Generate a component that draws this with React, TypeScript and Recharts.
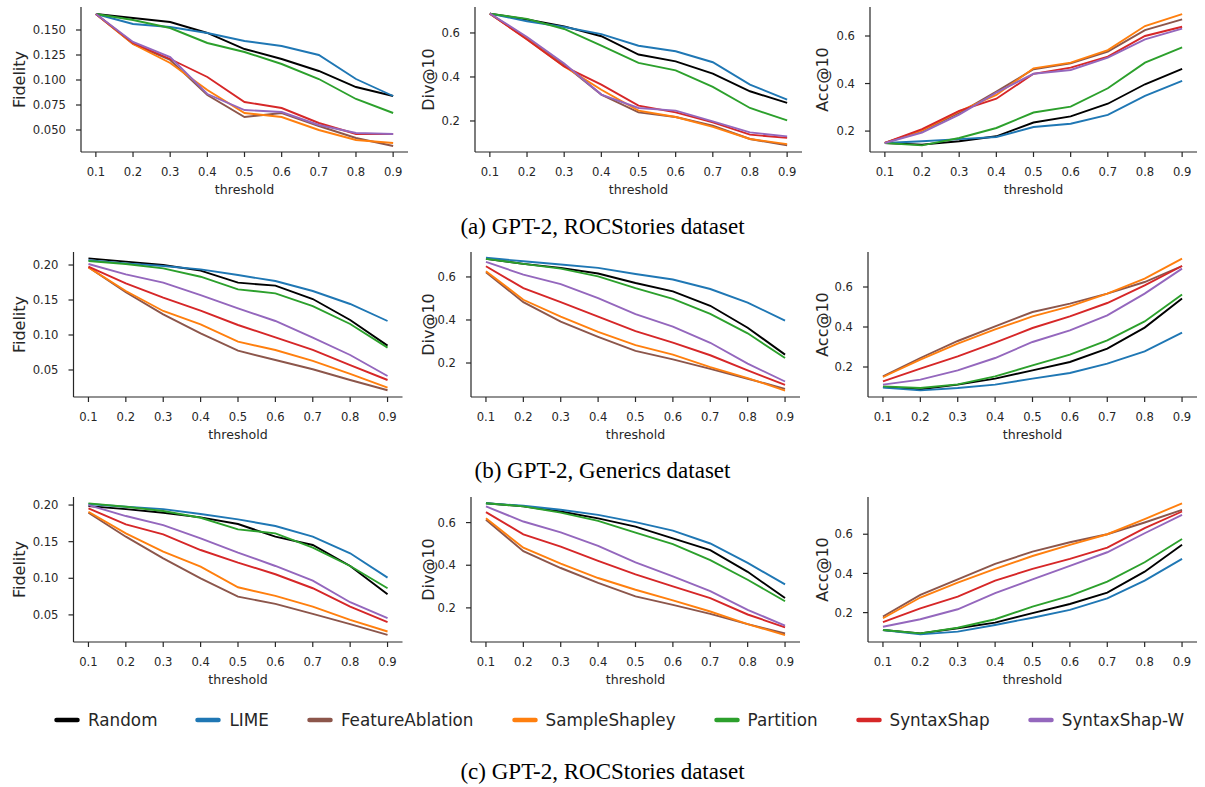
import React from 'react';
import { LineChart, Line, XAxis, YAxis } from 'recharts';

const thresholds = [0.1, 0.2, 0.3, 0.4, 0.5, 0.6, 0.7, 0.8, 0.9];

const methods = ['Random', 'LIME', 'FeatureAblation', 'SampleShapley', 'Partition', 'SyntaxShap', 'SyntaxShap-W'];

const colors: Record<string, string> = {
  Random: '#000000',
  LIME: '#1f77b4',
  FeatureAblation: '#8c564b',
  SampleShapley: '#ff7f0e',
  Partition: '#2ca02c',
  SyntaxShap: '#d62728',
  'SyntaxShap-W': '#9467bd',
};

// (a) GPT-2, ROCStories
const rocFidelity = {
  Random: [0.166, 0.162, 0.158, 0.147, 0.131, 0.121, 0.109, 0.093, 0.084],
  LIME: [0.166, 0.156, 0.153, 0.147, 0.139, 0.134, 0.125, 0.101, 0.084],
  FeatureAblation: [0.166, 0.136, 0.120, 0.085, 0.063, 0.067, 0.054, 0.042, 0.034],
  SampleShapley: [0.166, 0.136, 0.117, 0.090, 0.067, 0.063, 0.050, 0.040, 0.037],
  Partition: [0.166, 0.160, 0.152, 0.137, 0.128, 0.116, 0.101, 0.081, 0.067],
  SyntaxShap: [0.166, 0.137, 0.121, 0.103, 0.078, 0.072, 0.057, 0.046, 0.046],
  'SyntaxShap-W': [0.166, 0.138, 0.123, 0.086, 0.070, 0.068, 0.055, 0.047, 0.046],
};
const rocDiv = {
  Random: [0.688, 0.661, 0.630, 0.585, 0.502, 0.471, 0.415, 0.335, 0.282],
  LIME: [0.688, 0.653, 0.627, 0.595, 0.542, 0.517, 0.467, 0.365, 0.297],
  FeatureAblation: [0.688, 0.575, 0.455, 0.320, 0.239, 0.218, 0.179, 0.118, 0.089],
  SampleShapley: [0.688, 0.572, 0.448, 0.342, 0.247, 0.218, 0.173, 0.118, 0.095],
  Partition: [0.688, 0.664, 0.618, 0.542, 0.464, 0.430, 0.355, 0.259, 0.203],
  SyntaxShap: [0.688, 0.570, 0.448, 0.365, 0.270, 0.239, 0.194, 0.138, 0.123],
  'SyntaxShap-W': [0.688, 0.582, 0.461, 0.320, 0.259, 0.247, 0.198, 0.148, 0.130],
};
const rocAcc = {
  Random: [0.150, 0.143, 0.157, 0.178, 0.236, 0.262, 0.315, 0.397, 0.462],
  LIME: [0.150, 0.157, 0.166, 0.175, 0.217, 0.231, 0.268, 0.348, 0.411],
  FeatureAblation: [0.150, 0.201, 0.276, 0.366, 0.460, 0.485, 0.534, 0.625, 0.670],
  SampleShapley: [0.150, 0.203, 0.283, 0.352, 0.464, 0.488, 0.541, 0.642, 0.692],
  Partition: [0.150, 0.140, 0.171, 0.213, 0.278, 0.303, 0.380, 0.488, 0.552],
  SyntaxShap: [0.150, 0.208, 0.285, 0.336, 0.441, 0.467, 0.513, 0.600, 0.639],
  'SyntaxShap-W': [0.150, 0.194, 0.269, 0.362, 0.441, 0.457, 0.509, 0.586, 0.631],
};

// (b) GPT-2, Generics
const genFidelity = {
  Random: [0.2095, 0.2048, 0.200, 0.192, 0.1748, 0.1705, 0.1514, 0.1214, 0.0848],
  LIME: [0.207, 0.2024, 0.1986, 0.1938, 0.1857, 0.1771, 0.1629, 0.1443, 0.120],
  FeatureAblation: [0.1967, 0.161, 0.1295, 0.1024, 0.0776, 0.0643, 0.051, 0.0357, 0.021],
  SampleShapley: [0.1967, 0.1629, 0.1343, 0.1152, 0.0905, 0.0786, 0.0629, 0.0443, 0.0248],
  Partition: [0.2057, 0.2014, 0.1952, 0.1833, 0.1652, 0.1595, 0.1414, 0.1157, 0.0819],
  SyntaxShap: [0.1976, 0.1738, 0.1533, 0.1348, 0.1143, 0.0967, 0.0786, 0.0571, 0.0357],
  'SyntaxShap-W': [0.2014, 0.1867, 0.1748, 0.1571, 0.1381, 0.120, 0.0962, 0.0714, 0.0414],
};
const genDiv = {
  Random: [0.684, 0.661, 0.642, 0.616, 0.572, 0.533, 0.466, 0.364, 0.239],
  LIME: [0.689, 0.673, 0.658, 0.642, 0.614, 0.588, 0.544, 0.481, 0.397],
  FeatureAblation: [0.622, 0.483, 0.392, 0.322, 0.256, 0.217, 0.173, 0.127, 0.080],
  SampleShapley: [0.627, 0.494, 0.416, 0.345, 0.283, 0.239, 0.181, 0.130, 0.072],
  Partition: [0.684, 0.661, 0.639, 0.603, 0.548, 0.498, 0.428, 0.338, 0.223],
  SyntaxShap: [0.650, 0.548, 0.483, 0.416, 0.348, 0.295, 0.236, 0.166, 0.098],
  'SyntaxShap-W': [0.670, 0.611, 0.567, 0.502, 0.427, 0.369, 0.294, 0.197, 0.114],
};
const genAcc = {
  Random: [0.100, 0.088, 0.112, 0.142, 0.183, 0.225, 0.292, 0.397, 0.542],
  LIME: [0.097, 0.083, 0.095, 0.112, 0.142, 0.170, 0.217, 0.278, 0.372],
  FeatureAblation: [0.153, 0.245, 0.330, 0.403, 0.475, 0.517, 0.567, 0.625, 0.705],
  SampleShapley: [0.150, 0.237, 0.317, 0.388, 0.453, 0.503, 0.567, 0.642, 0.742],
  Partition: [0.103, 0.095, 0.113, 0.153, 0.208, 0.262, 0.333, 0.428, 0.563],
  SyntaxShap: [0.128, 0.192, 0.253, 0.322, 0.395, 0.453, 0.520, 0.608, 0.705],
  'SyntaxShap-W': [0.112, 0.137, 0.183, 0.245, 0.325, 0.383, 0.458, 0.567, 0.692],
};

// (c) GPT-2, ROCStories (second run)
const roc2Fidelity = {
  Random: [0.1986, 0.1945, 0.1895, 0.1832, 0.1741, 0.1568, 0.1455, 0.1168, 0.0782],
  LIME: [0.2014, 0.1977, 0.1945, 0.1877, 0.1805, 0.1714, 0.1568, 0.1341, 0.1009],
  FeatureAblation: [0.1895, 0.1568, 0.1273, 0.100, 0.075, 0.065, 0.0514, 0.0373, 0.0227],
  SampleShapley: [0.1909, 0.1614, 0.1364, 0.1159, 0.0877, 0.0759, 0.0614, 0.0432, 0.0273],
  Partition: [0.2023, 0.1977, 0.1918, 0.1827, 0.1668, 0.1614, 0.1418, 0.1168, 0.0864],
  SyntaxShap: [0.1955, 0.1736, 0.160, 0.1386, 0.1214, 0.1055, 0.0864, 0.0614, 0.040],
  'SyntaxShap-W': [0.200, 0.185, 0.1727, 0.1545, 0.135, 0.1168, 0.0968, 0.0673, 0.0455],
};
const roc2Div = {
  Random: [0.691, 0.676, 0.652, 0.620, 0.581, 0.526, 0.471, 0.369, 0.246],
  LIME: [0.691, 0.679, 0.660, 0.636, 0.602, 0.562, 0.502, 0.411, 0.310],
  FeatureAblation: [0.613, 0.466, 0.387, 0.317, 0.254, 0.214, 0.172, 0.124, 0.080],
  SampleShapley: [0.620, 0.482, 0.408, 0.340, 0.285, 0.235, 0.183, 0.124, 0.072],
  Partition: [0.691, 0.676, 0.647, 0.608, 0.553, 0.499, 0.424, 0.332, 0.231],
  SyntaxShap: [0.649, 0.545, 0.487, 0.420, 0.357, 0.301, 0.246, 0.169, 0.109],
  'SyntaxShap-W': [0.676, 0.605, 0.554, 0.491, 0.413, 0.348, 0.279, 0.191, 0.117],
};
const roc2Acc = {
  Random: [0.111, 0.094, 0.120, 0.149, 0.197, 0.244, 0.302, 0.409, 0.546],
  LIME: [0.111, 0.089, 0.103, 0.137, 0.174, 0.214, 0.273, 0.363, 0.474],
  FeatureAblation: [0.180, 0.290, 0.370, 0.449, 0.511, 0.559, 0.600, 0.660, 0.724],
  SampleShapley: [0.171, 0.277, 0.353, 0.423, 0.489, 0.546, 0.600, 0.677, 0.758],
  Partition: [0.111, 0.094, 0.123, 0.166, 0.231, 0.285, 0.358, 0.457, 0.576],
  SyntaxShap: [0.151, 0.222, 0.282, 0.363, 0.423, 0.474, 0.532, 0.631, 0.716],
  'SyntaxShap-W': [0.128, 0.166, 0.217, 0.299, 0.370, 0.438, 0.508, 0.605, 0.699],
};

const fidTicksA = [0.05, 0.075, 0.1, 0.125, 0.15];
const fidTicksB = [0.05, 0.1, 0.15, 0.2];
const rateTicks = [0.2, 0.4, 0.6];

const captions = ['(a) GPT-2, ROCStories dataset', '(b) GPT-2, Generics dataset', '(c) GPT-2, ROCStories dataset'];

const INK = '#262626';
const FONT = '"DejaVu Sans", sans-serif';
const TOP_PAD = 8;
const X_AXIS_H = 48;

type PanelProps = {
  left: number;      // chart div left
  plotLeft: number;  // page x of the y spine
  plotTop: number;
  plotW: number;
  plotH: number;
  yLabel: string;
  yLabelX: number;   // page x of the rotated label centre
  domain: [number, number];
  ticks: number[];
  digits: number;
  series: Record<string, number[]>;
};

const Panel = ({ left, plotLeft, plotTop, plotW, plotH, yLabel, yLabelX, domain, ticks, digits, series }: PanelProps) => {
  const data = thresholds.map((t, i) => {
    const row: Record<string, number> = { t };
    methods.forEach(m => { row[m] = series[m][i]; });
    return row;
  });
  const yw = plotLeft - left;
  const width = yw + plotW + 4;
  const height = TOP_PAD + plotH + X_AXIS_H;
  const cy = TOP_PAD + plotH / 2;
  const lx = yLabelX - left;

  return (
    <div style={{ position: 'absolute', left, top: plotTop - TOP_PAD }}>
      <LineChart width={width} height={height} data={data} margin={{ top: TOP_PAD, right: 4, bottom: 0, left: 0 }}>
        <XAxis
          type="number"
          dataKey="t"
          domain={[0.06, 0.94]}
          allowDataOverflow
          ticks={thresholds}
          interval={0}
          tickFormatter={(v: number) => v.toFixed(1)}
          height={X_AXIS_H}
          tickSize={5}
          tickMargin={11}
          stroke={INK}
          strokeWidth={1.2}
          tick={{ fill: INK, fontSize: 11.6, fontFamily: FONT }}
          label={{
            content: () => (
              <text x={yw + plotW / 2} y={TOP_PAD + plotH + 42} textAnchor="middle" fill={INK} fontSize={12.6} fontFamily={FONT}>
                threshold
              </text>
            ),
          }}
        />
        <YAxis
          type="number"
          domain={domain}
          allowDataOverflow
          ticks={ticks}
          interval={0}
          width={yw}
          tickFormatter={(v: number) => v.toFixed(digits)}
          tickSize={5}
          tickMargin={10}
          stroke={INK}
          strokeWidth={1.2}
          tick={{ fill: INK, fontSize: 11.6, fontFamily: FONT }}
          label={{
            content: () => (
              <text
                x={lx}
                y={cy}
                transform={`rotate(-90, ${lx}, ${cy})`}
                textAnchor="middle"
                dominantBaseline="central"
                fill={INK}
                fontSize={16}
                fontFamily={FONT}
              >
                {yLabel}
              </text>
            ),
          }}
        />
        {methods.map(m => (
          <Line
            key={m}
            type="linear"
            dataKey={m}
            stroke={colors[m]}
            strokeWidth={1.9}
            dot={false}
            activeDot={false}
            isAnimationActive={false}
          />
        ))}
      </LineChart>
    </div>
  );
};

const rows = [
  { top: 7, cols: [81, 475, 870], w: 327, sets: [rocFidelity, rocDiv, rocAcc], fid: { domain: [0.028, 0.173] as [number, number], ticks: fidTicksA, digits: 3 }, doms: [[0.059, 0.718], [0.112, 0.722]] },
  { top: 252, cols: [73.5, 471, 868], w: 329, sets: [genFidelity, genDiv, genAcc], fid: { domain: [0.0114, 0.2186] as [number, number], ticks: fidTicksB, digits: 2 }, doms: [[0.042, 0.716], [0.05, 0.775]] },
  { top: 497, cols: [73.5, 471, 868], w: 329, sets: [roc2Fidelity, roc2Div, roc2Acc], fid: { domain: [0.013, 0.211] as [number, number], ticks: fidTicksB, digits: 2 }, doms: [[0.04, 0.72], [0.05, 0.79]] },
];

const Legend = () => (
  <div style={{ position: 'absolute', left: 54, top: 709, width: 1150, display: 'flex', flexWrap: 'nowrap', alignItems: 'center', fontFamily: FONT, fontSize: 16.8, lineHeight: '22px', color: INK, whiteSpace: 'nowrap' }}>
    {methods.map(m => (
      <div key={m} style={{ display: 'flex', alignItems: 'center', flexShrink: 0, marginRight: 38 }}>
        <svg width={26} height={8} style={{ marginRight: 8 }}>
          <line x1={2.5} y1={4} x2={23.5} y2={4} stroke={colors[m]} strokeWidth={4.5} strokeLinecap="round" />
        </svg>
        <span>{m}</span>
      </div>
    ))}
  </div>
);

export default function App() {
  return (
    <div style={{ position: 'absolute', left: 0, top: 0, width: 1205, height: 787, background: '#fff', overflow: 'hidden' }}>
      {rows.map((r, ri) => (
        <React.Fragment key={ri}>
          <Panel left={0} plotLeft={r.cols[0]} plotTop={r.top} plotW={r.w} plotH={145} yLabel="Fidelity" yLabelX={19}
            domain={r.fid.domain} ticks={r.fid.ticks} digits={r.fid.digits} series={r.sets[0]} />
          <Panel left={400} plotLeft={r.cols[1]} plotTop={r.top} plotW={r.w} plotH={145} yLabel="Div@10" yLabelX={428}
            domain={r.doms[0] as [number, number]} ticks={rateTicks} digits={1} series={r.sets[1]} />
          <Panel left={800} plotLeft={r.cols[2]} plotTop={r.top} plotW={r.w} plotH={145} yLabel="Acc@10" yLabelX={822}
            domain={r.doms[1] as [number, number]} ticks={rateTicks} digits={1} series={r.sets[2]} />
        </React.Fragment>
      ))}
      <Legend />
      {captions.map((c, i) => (
        <div key={c + i} style={{ position: 'absolute', left: 0, width: 1205, top: [213, 457, 758][i], textAlign: 'center', fontFamily: '"Liberation Serif", "Times New Roman", serif', fontSize: 23, lineHeight: '28px', color: '#000' }}>
          {c}
        </div>
      ))}
    </div>
  );
}
